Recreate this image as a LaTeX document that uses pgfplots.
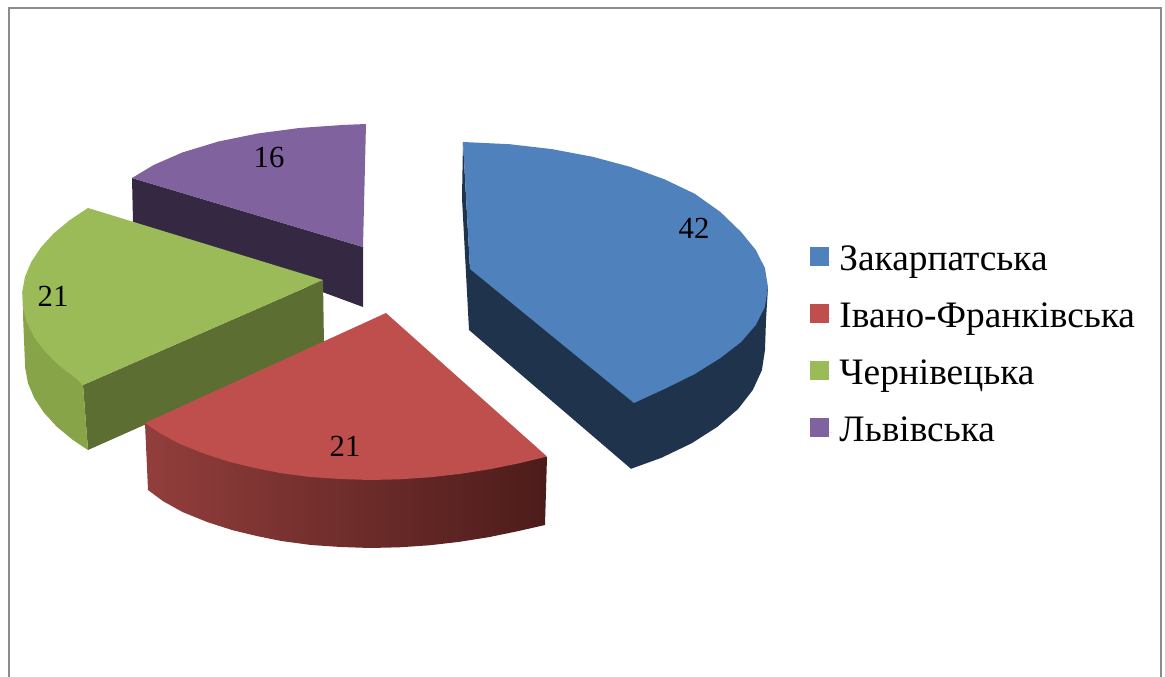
\documentclass[border=0pt]{standalone}
\usepackage{pgfplots}
\pgfplotsset{compat=1.18}
\usepackage{fontspec}
\setmainfont{Liberation Serif}
\definecolor{cblue}{HTML}{4F81BD}
\definecolor{cred}{HTML}{BE4F4C}
\definecolor{cgreen}{HTML}{9BBB59}
\definecolor{cpurple}{HTML}{7F629E}
\definecolor{dblue}{HTML}{1F334D}
\definecolor{dpurple}{HTML}{342842}
\definecolor{dgreen}{HTML}{5D6E32}
\definecolor{sgreen}{HTML}{87A449}
\definecolor{rl}{RGB}{146,62,60}
\definecolor{rm}{RGB}{128,50,48}
\definecolor{rr}{RGB}{76,28,26}
\begin{document}
\begin{tikzpicture}
\begin{axis}[
  hide axis, scale only axis, x=0.75pt, y=0.75pt, y dir=reverse,
  xmin=0, xmax=1165, ymin=0, ymax=677, clip=true, no markers,
  reverse legend,
  legend style={at={(axis cs:805.3,241)}, anchor=north west, draw=none, fill=none,
    font=\fontsize{28pt}{30pt}\selectfont, row sep=15.75pt,
    nodes={inner ysep=0pt, inner xsep=5.2pt, text height=20pt, text depth=7pt}},
  legend cell align=left,
  legend image code/.code={\fill[#1] (0pt,-3.2pt) rectangle (14.2pt,11pt); \path (14.2pt,0pt) -- (17.2pt,0pt);},
  rside/.style={forget plot, draw=none, left color=rl, middle color=rm, right color=rr},
  poly/.style={forget plot, draw=none, fill=#1},
]
% page and frame
\addplot[poly=white] coordinates {(0,0)(1165,0)(1165,677)(0,677)} --cycle;
\addplot[forget plot, color=black!45, line width=1.5pt] coordinates {(8.5,677)(8.5,8.5)(1161,8.5)(1161,677)};

% purple
\addplot[poly=dpurple] coordinates {(132,178)(133,222)(363,307)(363,247)} --cycle;
\addplot[draw=none, fill=cpurple] coordinates {(132,178)(153.7,165)(182.3,152.5)(218.5,141.5)(257.7,133.5)(299.3,128)(342.3,125)(366,124)(363,247)} --cycle;
% green
\addplot[poly=dgreen] coordinates {(323,280)(83,385)(88,450)(324,345)} --cycle;
\addplot[poly=sgreen] coordinates {(23,292)(23,315)(24,340)(25.2,368)(28,383.2)(34.3,398.1)(43.9,412.6)(56.7,426.6)(72.6,439.8)(88,450)(83,385)(60,340)} --cycle;
\addplot[draw=none, fill=cgreen] coordinates {(88,208)(69.6,220.2)(53.7,233.4)(40.9,247.4)(31.3,261.9)(25,276.8)(22.2,291.9)(22.8,307.1)(26.8,322.2)(34.1,337)(44.8,351.3)(58.6,365.1)(75.5,378.1)(83,385)(323,280)} --cycle;
% red
\addplot[rside] coordinates {(145,423)(148,490)(162.8,501)(182.5,512)(207.1,522)(231.9,530)(256.6,536)(281.3,541)(311,545)(340.6,547)(370,548)(399.7,547.3)(429.3,545.3)(458.9,541.9)(488.6,537.2)(518.2,531.1)(545,525)(547,457)(386,400)} --cycle;
\addplot[draw=none, fill=cred] coordinates {(386,313)(145,423)(160,433.3)(180,444)(205,454)(230,462)(255,468)(280,473)(310,477)(340,479)(370,480)(400,479.3)(430,477.3)(460,473.9)(490,469.2)(520,463.1)(547,456.5)} --cycle;
% blue
\addplot[poly=dblue] coordinates {(463,142)(462,198)(469,330)(631,468.8)(661.4,457.8)(691.8,443.2)(717.4,426.8)(738.1,409)(752.8,390)(761.9,370.2)(765,350)(766,320)(768,287)(470,269)} --cycle;
\addplot[draw=none, fill=cblue] coordinates {(463,142)(509.4,144.2)(551.7,149.1)(592.2,156.7)(630,166.8)(664.4,179.3)(694.8,193.8)(720.4,212)(741.1,232)(755.8,250)(764.9,268)(768,287)(764.9,307)(755.8,325)(741.1,342)(720.4,358)(694.8,374)(664.4,389)(634,403)(470,269)} --cycle;

\legend{Львівська,Чернівецька,Івано-Франківська,Закарпатська}

\node[font=\fontsize{23pt}{26pt}\selectfont] at (axis cs:694,228) {42};
\node[font=\fontsize{23pt}{26pt}\selectfont] at (axis cs:345,446) {21};
\node[font=\fontsize{23pt}{26pt}\selectfont] at (axis cs:53,296) {21};
\node[font=\fontsize{23pt}{26pt}\selectfont] at (axis cs:269,157) {16};
\end{axis}
\end{tikzpicture}
\end{document}
